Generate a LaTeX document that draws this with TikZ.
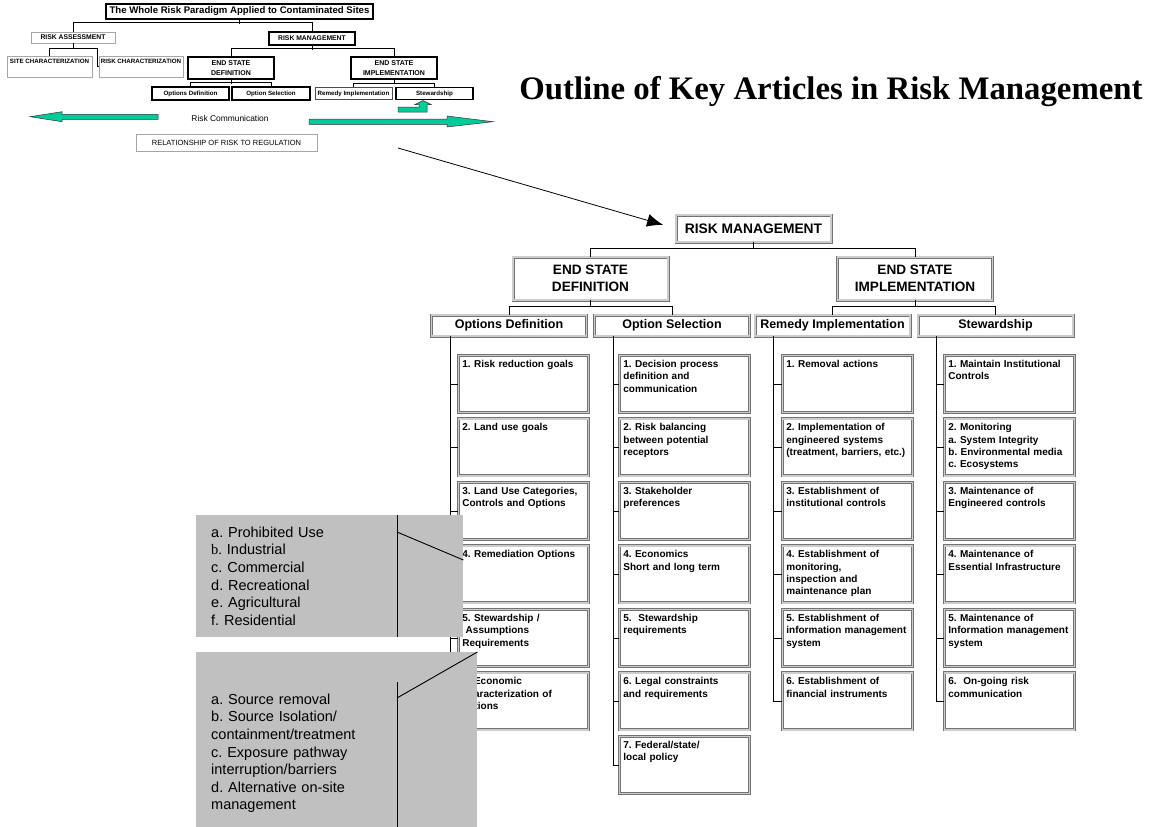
\documentclass[tikz,border=0pt]{standalone}
\usepackage{fontspec}
\setmainfont{Liberation Sans}
\newfontfamily\timesfont{Liberation Serif}
\usetikzlibrary{arrows.meta}
\frenchspacing

\definecolor{commgreen}{RGB}{0,204,153}
\definecolor{notegray}{RGB}{192,192,192}

\tikzset{
  dblbox/.style={draw=black!55, double=gray!40, double distance=1.4pt, line width=0.8pt, fill=white},
  itembox/.style={dblbox, anchor=north west, text width=122pt, align=left, inner xsep=4pt, inner ysep=3pt,
    text height=9pt, text depth=42pt, font=\fontsize{10}{12.3}\selectfont\bfseries},
  headbox/.style={dblbox, minimum width=155pt, minimum height=21pt, inner sep=0pt,
    font=\fontsize{12.5}{14}\selectfont\bfseries},
  stagebox/.style={dblbox, minimum width=155pt, minimum height=43pt, inner sep=0pt, align=center,
    font=\fontsize{13.6}{16.7}\selectfont\bfseries},
  thinbox/.style={draw=gray!70, line width=0.6pt, fill=white, inner sep=0pt},
  thickbox/.style={draw, line width=1.4pt, fill=white, inner sep=0pt},
  notebox/.style={fill=notegray, anchor=north west, inner xsep=15pt, inner ysep=0pt, align=left,
    font=\fontsize{14.5}{17.6}\selectfont},
  commarrow/.style={fill=commgreen, draw=black!80, line width=0.5pt},
  wire/.style={draw, line width=0.7pt},
}

\begin{document}
\begin{tikzpicture}[x=1pt,y=-1pt]
\useasboundingbox (0,0) rectangle (1149,827);

% small overview diagram
\node[thickbox, minimum width=267pt, minimum height=15pt, font=\fontsize{9.6}{11}\selectfont\bfseries] (whole) at (239.5,11.5) {The Whole Risk Paradigm Applied to Contaminated Sites};
\node[thinbox, minimum width=84pt, minimum height=11pt, font=\fontsize{6.8}{8}\selectfont\bfseries] (ras) at (73,37.5) {RISK ASSESSMENT};
\node[thickbox, minimum width=86pt, minimum height=13pt, font=\fontsize{6.8}{8}\selectfont\bfseries] (rms) at (312,38.5) {RISK MANAGEMENT};
\node[thinbox, minimum width=85pt, text height=6pt, text depth=13pt, inner ysep=1pt, font=\fontsize{6.2}{7}\selectfont\bfseries] (scs) at (49.5,66.5) {SITE CHARACTERIZATION};
\node[thinbox, minimum width=84pt, text height=6pt, text depth=13pt, inner ysep=1pt, font=\fontsize{6.2}{7}\selectfont\bfseries] (rcs) at (141,66.5) {RISK CHARACTERIZATION};
\node[thickbox, minimum width=86pt, minimum height=22pt, align=center, font=\fontsize{7}{9.5}\selectfont\bfseries] (esds) at (231,68) {END STATE\\DEFINITION};
\node[thickbox, minimum width=86pt, minimum height=22pt, align=center, font=\fontsize{7}{9.5}\selectfont\bfseries] (esis) at (394,68) {END STATE\\IMPLEMENTATION};
\node[thickbox, minimum width=77pt, minimum height=13pt, font=\fontsize{6.2}{7}\selectfont\bfseries] (ods) at (190.5,93.5) {Options Definition};
\node[thickbox, minimum width=78pt, minimum height=13pt, font=\fontsize{6.2}{7}\selectfont\bfseries] (oss) at (271,93.5) {Option Selection};
\node[thinbox, draw=black!70, line width=0.8pt, minimum width=77pt, minimum height=12pt, font=\fontsize{6.2}{7}\selectfont\bfseries] (ris) at (353.5,93.5) {Remedy Implementation};
\node[thickbox, minimum width=77pt, minimum height=12pt, font=\fontsize{6.2}{7}\selectfont\bfseries] (sws) at (434.5,93.5) {Stewardship};
\node[font=\fontsize{8.4}{10}\selectfont] (riskcomm) at (230,118) {Risk Communication};
\node[thinbox, minimum width=181pt, minimum height=17pt, font=\fontsize{7.5}{9}\selectfont] (relreg) at (226.5,142.5) {RELATIONSHIP OF RISK TO REGULATION};

\draw[wire] (whole.south) -- ++(0,4);
\draw[wire] (ras.north) -- ++(0,-9) -| (rms.north);
\coordinate (rabar) at (97,48);
\draw[wire] (ras.south) -- ++(0,5);
\draw[wire] (scs.north) |- (rabar) |- (rcs.west);
\draw[wire] (rms.south) -- ++(0,4);
\draw[wire] (esds.north) -- ++(0,-8) -| (esis.north);
\draw[wire] (esds.south) -- ++(0,4);
\draw[wire] (ods.north) -- ++(0,-4) -| (oss.north);
\draw[wire] (esis.south) -- ++(0,4);
\draw[wire] (ris.north) -- ++(0,-4) -| (sws.north);

% risk communication arrows
\draw[commarrow] (30,116.7) -- (62,111.7) -- (62,114.3) -- (158,114.3) -- (158,119.3) -- (62,119.3) -- (62,121.7) -- cycle;
\draw[commarrow] (309,119) -- (447,119) -- (447,116) -- (493,121.7) -- (447,127) -- (447,124.3) -- (309,124.3) -- cycle;
\draw[commarrow] (398,107) -- (419,107) -- (419,104.5) -- (415,104.5) -- (423,100.5) -- (431,104.5) -- (427,104.5) -- (427,112) -- (398,112) -- cycle;

\node[font=\timesfont\fontsize{32.8}{38}\selectfont\bfseries, anchor=base] (outline) at (831,99) {Outline of Key Articles in Risk Management};

% main chart
\node[dblbox, minimum width=155pt, minimum height=27pt, inner sep=0pt, font=\fontsize{13.8}{16}\selectfont\bfseries] (rm) at (753.5,228.5) {RISK MANAGEMENT};
\node[stagebox] (esd) at (590.5,278.5) {END STATE\\DEFINITION};
\node[stagebox] (esi) at (915,278.5) {END STATE\\IMPLEMENTATION};
\node[headbox] (od) at (509,325.5) {Options Definition};
\node[headbox] (os) at (672,325.5) {Option Selection};
\node[headbox] (ri) at (832.5,325.5) {Remedy Implementation};
\node[headbox] (sw) at (995.5,325.5) {Stewardship};

\coordinate (callout) at (398,148);
\draw[-{Latex[length=16pt,width=13pt]}, line width=0.8pt, shorten >=13pt] (callout) -- (rm.west);

\draw[wire] (rm.south) -- ++(0,7);
\draw[wire] (esd.north) -- ++(0,-8) -| (esi.north);
\draw[wire] (esd.south) -- ++(0,7);
\draw[wire] (od.north) -- ++(0,-8) -| (os.north);
\draw[wire] (esi.south) -- ++(0,7);
\draw[wire] (ri.north) -- ++(0,-8) -| (sw.north);

\node[itembox] (od1) at (458,355) {1. Risk reduction goals};
\node[itembox] (od2) at (458,418.5) {2. Land use goals};
\node[itembox] (od3) at (458,482) {3. Land Use Categories,\\Controls and Options};
\node[itembox] (od4) at (458,545.5) {4. Remediation Options};
\node[itembox] (od5) at (458,609) {5. Stewardship /\\\mbox{}\ Assumptions\\Requirements};
\node[itembox] (od6) at (458,672.5) {6. Economic\\characterization of\\options};

\node[itembox] (os1) at (619,355) {1. Decision process\\definition and\\communication};
\node[itembox] (os2) at (619,418.5) {2. Risk balancing\\between potential\\receptors};
\node[itembox] (os3) at (619,482) {3. Stakeholder\\preferences};
\node[itembox] (os4) at (619,545.5) {4. Economics\\Short and long term};
\node[itembox] (os5) at (619,609) {5.\ \ Stewardship\\requirements};
\node[itembox] (os6) at (619,672.5) {6. Legal constraints\\and requirements};
\node[itembox] (os7) at (619,736) {7. Federal/state/\\local policy};

\node[itembox] (ri1) at (782,355) {1. Removal actions};
\node[itembox] (ri2) at (782,418.5) {2. Implementation of\\engineered systems\\(treatment, barriers, etc.)};
\node[itembox] (ri3) at (782,482) {3. Establishment of\\institutional controls};
\node[itembox] (ri4) at (782,545.5) {4. Establishment of\\monitoring,\\inspection and\\maintenance plan};
\node[itembox] (ri5) at (782,609) {5. Establishment of\\information management\\system};
\node[itembox] (ri6) at (782,672.5) {6. Establishment of\\financial instruments};

\node[itembox] (sw1) at (944,355) {1. Maintain Institutional\\Controls};
\node[itembox] (sw2) at (944,418.5) {2. Monitoring\\a. System Integrity\\b. Environmental media\\c. Ecosystems};
\node[itembox] (sw3) at (944,482) {3. Maintenance of\\Engineered controls};
\node[itembox] (sw4) at (944,545.5) {4. Maintenance of\\Essential Infrastructure};
\node[itembox] (sw5) at (944,609) {5. Maintenance of\\Information management\\system};
\node[itembox] (sw6) at (944,672.5) {6.\ \ On-going risk\\communication};

% trunks and branches
\coordinate (odt) at ([xshift=19pt]od.south west);
\coordinate (ost) at ([xshift=19pt]os.south west);
\coordinate (rit) at ([xshift=19pt]ri.south west);
\coordinate (swt) at ([xshift=19pt]sw.south west);
\draw[wire] (odt) |- (od6.west);
\draw[wire] (od1.west) -- (od1.west -| odt);
\draw[wire] (od2.west) -- (od2.west -| odt);
\draw[wire] (od3.west) -- (od3.west -| odt);
\draw[wire] (od4.west) -- (od4.west -| odt);
\draw[wire] (od5.west) -- (od5.west -| odt);
\draw[wire] (ost) |- (os7.west);
\draw[wire] (os1.west) -- (os1.west -| ost);
\draw[wire] (os2.west) -- (os2.west -| ost);
\draw[wire] (os3.west) -- (os3.west -| ost);
\draw[wire] (os4.west) -- (os4.west -| ost);
\draw[wire] (os5.west) -- (os5.west -| ost);
\draw[wire] (os6.west) -- (os6.west -| ost);
\draw[wire] (rit) |- (ri6.west);
\draw[wire] (ri1.west) -- (ri1.west -| rit);
\draw[wire] (ri2.west) -- (ri2.west -| rit);
\draw[wire] (ri3.west) -- (ri3.west -| rit);
\draw[wire] (ri4.west) -- (ri4.west -| rit);
\draw[wire] (ri5.west) -- (ri5.west -| rit);
\draw[wire] (swt) |- (sw6.west);
\draw[wire] (sw1.west) -- (sw1.west -| swt);
\draw[wire] (sw2.west) -- (sw2.west -| swt);
\draw[wire] (sw3.west) -- (sw3.west -| swt);
\draw[wire] (sw4.west) -- (sw4.west -| swt);
\draw[wire] (sw5.west) -- (sw5.west -| swt);

% grey call-outs
\node[notebox, text width=237pt, text height=22pt, text depth=100pt] (landuse) at (196,515)
  {a. Prohibited Use\\{\timesfont b.} Industrial\\c. Commercial\\d. Recreational\\e. Agricultural\\f. Residential};
\draw[line width=0.9pt] ([xshift=201pt]landuse.north west) -- ([xshift=201pt]landuse.south west);
\draw[line width=0.9pt] ([xshift=201pt,yshift=-17pt]landuse.north west) -- ([yshift=-45pt]landuse.north east);

\node[notebox, text width=251pt, text height=52pt, text depth=123pt] (remopts) at (196,652)
  {a. Source removal\\b. Source Isolation/\\containment/treatment\\c. Exposure pathway\\interruption/barriers\\d. Alternative on-site\\management};
\draw[line width=0.9pt] ([xshift=201pt,yshift=-30pt]remopts.north west) -- ([xshift=201pt]remopts.south west);
\draw[line width=0.9pt] ([xshift=201pt,yshift=-46pt]remopts.north west) -- (remopts.north east);
\end{tikzpicture}
\end{document}
